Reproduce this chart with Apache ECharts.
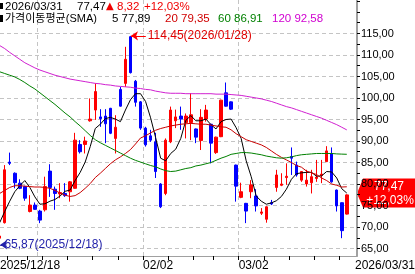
<!DOCTYPE html>
<html><head><meta charset="utf-8">
<script src="https://cdn.jsdelivr.net/npm/echarts@6/dist/echarts.min.js"></script>
<style>html,body{margin:0;padding:0;background:#fff}#c{width:415px;height:274px}</style>
</head><body><div id="c"></div>
<script>
// ---------------- DATA ----------------
const dates = [
 '2025/12/18','2025/12/19','2025/12/22','2025/12/23','2025/12/24','2025/12/26','2025/12/29','2025/12/30',
 '2026/01/02','2026/01/05','2026/01/06','2026/01/07','2026/01/08','2026/01/09','2026/01/12','2026/01/13',
 '2026/01/14','2026/01/15','2026/01/16','2026/01/19','2026/01/20','2026/01/21','2026/01/22','2026/01/23',
 '2026/01/26','2026/01/27','2026/01/28','2026/01/29','2026/01/30',
 '2026/02/02','2026/02/03','2026/02/04','2026/02/05','2026/02/06','2026/02/09','2026/02/10','2026/02/11',
 '2026/02/12','2026/02/13','2026/02/16','2026/02/18','2026/02/19','2026/02/20','2026/02/23','2026/02/24',
 '2026/02/25','2026/02/26','2026/02/27',
 '2026/03/02','2026/03/03','2026/03/04','2026/03/05','2026/03/06','2026/03/09','2026/03/10','2026/03/11',
 '2026/03/12','2026/03/13','2026/03/16','2026/03/17','2026/03/18','2026/03/19','2026/03/20','2026/03/23',
 '2026/03/24','2026/03/25','2026/03/26','2026/03/27','2026/03/30','2026/03/31'
];
const opens = [67.4,71.0,85.1,82.5,80.2,79.4,73.6,75.1,73.7,74.0,83.0,78.8,77.7,77.8,78.2,79.0,89.2,89.2,94.7,97.2,
 95.6,95.8,97.6,90.6,102.0,103.4,114.26,103.9,99.1,93.0,91.2,89.8,80.0,77.8,89.8,94.7,95.8,94.3,94.3,92.8,
 90.1,95.1,93.9,87.3,91.0,101.2,99.1,84.4,76.9,75.5,78.2,77.2,73.2,71.8,75.65,79.2,79.7,81.5,86.4,84.4,
 80.9,80.0,80.3,81.3,82.0,85.2,87.1,78.6,75.65,73.0];
const closes = [67.9,83.3,84.8,80.3,79.0,76.7,75.1,74.1,71.6,79.4,79.2,77.8,78.0,77.3,80.5,90.2,87.5,90.0,95.1,101.5,
 95.2,94.0,91.8,93.2,98.1,109.0,105.9,99.0,93.0,89.1,90.2,82.9,74.7,90.2,97.2,95.6,95.1,95.8,96.1,90.9,
 95.5,97.2,89.5,90.9,99.5,98.1,97.4,79.5,78.2,73.7,79.8,74.9,73.5,74.7,75.35,82.1,80.0,81.8,86.0,82.1,
 82.9,80.9,81.7,81.6,82.3,87.7,80.5,74.9,69.15,77.47];
const lows = [65.87,70.8,84.4,79.0,78.8,76.1,73.4,74.0,70.9,73.6,77.0,74.0,76.7,77.0,75.9,78.9,87.1,87.1,94.5,94.9,
 93.3,89.5,91.6,87.1,98.0,102.6,105.7,98.0,92.6,88.7,89.8,81.4,74.4,77.4,89.5,93.0,92.6,90.6,90.2,89.5,
 87.9,94.5,84.8,87.0,90.9,98.0,97.2,75.9,76.7,70.9,76.7,73.6,72.8,71.0,75.1,78.2,79.5,79.8,82.1,81.7,
 80.5,79.4,77.8,80.5,80.2,85.1,80.3,73.6,67.4,72.9];
const highs = [68.6,84.4,87.3,82.7,81.1,79.6,77.4,75.7,74.0,81.7,84.6,79.4,80.2,80.2,80.7,91.9,90.2,91.0,99.9,103.4,
 97.4,97.4,97.7,96.0,102.6,111.9,114.45,104.2,99.3,93.3,92.6,91.9,80.2,90.6,98.0,97.3,98.0,96.4,101.1,92.9,
 97.4,98.4,94.0,91.0,99.6,103.6,99.2,84.5,80.3,75.6,80.9,78.8,74.4,74.8,76.3,83.3,82.5,84.8,88.5,85.2,
 82.95,83.3,83.3,85.6,85.6,88.8,88.5,78.7,75.7,77.6];
const ma5 = [71.0,73.6,76.0,78.2,79.6,80.8,79.2,77.0,75.3,75.4,76.0,76.4,77.2,78.3,78.6,80.8,82.7,85.1,88.7,92.9,
 93.9,95.2,95.5,95.1,94.5,97.2,99.6,101.0,101.0,99.2,95.4,90.8,86.0,85.4,87.1,88.1,90.6,94.8,95.9,94.7,
 94.7,95.1,93.8,92.8,94.5,95.0,95.1,93.1,90.6,85.4,81.7,77.2,76.0,75.3,75.6,76.1,77.1,78.8,81.1,82.4,
 82.6,82.7,82.7,81.8,81.9,82.9,82.8,81.4,78.9,77.89];
const ma20 = [77.8,78.5,79.2,79.6,79.6,79.5,79.4,79.3,79.3,79.2,79.0,78.5,77.9,77.4,77.1,77.3,78.0,79.0,80.1,81.5,
 82.5,83.6,84.7,85.6,86.3,87.1,88.0,89.3,90.7,91.2,91.9,92.5,92.9,93.2,93.5,93.7,93.9,94.0,94.1,94.0,
 93.9,93.9,93.7,93.5,93.3,93.2,92.6,91.7,91.0,90.3,89.9,89.5,89.1,88.5,87.7,86.9,86.2,85.6,85.0,84.3,
 83.9,83.0,82.6,82.2,81.4,80.8,80.0,79.7,79.3,79.35];
const ma60 = [106.1,105.7,105.3,104.9,104.3,103.6,102.8,102.1,101.2,100.3,99.4,98.5,97.5,96.5,95.6,94.5,93.5,92.4,91.3,90.3,
 89.6,89.0,88.4,87.8,87.2,86.6,86.0,85.5,85.1,84.7,84.3,84.0,83.5,83.1,82.9,83.0,83.3,83.6,83.8,84.2,
 84.4,84.7,85.0,85.5,86.0,86.4,86.9,87.1,87.3,87.3,87.2,87.0,86.8,86.5,86.3,86.1,86.0,86.1,86.3,86.6,
 86.8,86.9,87.0,87.1,87.1,87.1,87.1,87.0,86.95,86.91];
const ma120 = [112.2,111.5,110.6,109.8,109.0,108.2,107.6,107.0,106.5,106.1,105.7,105.3,105.0,104.7,104.4,104.2,104.0,103.8,103.6,103.4,
 103.3,103.1,103.0,102.8,102.7,102.6,102.5,102.3,102.2,102.0,101.9,101.6,101.4,101.2,101.1,101.1,101.1,101.0,101.0,101.0,
 101.0,101.0,101.0,100.9,100.9,100.9,100.8,100.7,100.6,100.4,100.2,100.0,99.8,99.5,99.2,98.8,98.4,98.0,97.7,97.3,
 96.9,96.5,96.1,95.7,95.3,94.8,94.3,93.8,93.2,92.58];
const maPeriods = [5, 20, 60, 120];
const maLast = [77.89, 79.35, 86.91, 92.58];
const yLabelValues = [65,70,75,80,85,90,95,100,105,110,115];
const yMinorTicks = [62.5,65,67.5,70,72.5,75,77.5,80,82.5,85,87.5,90,92.5,95,97.5,100,102.5,105,107.5,110,112.5,115,117.5,120,122.5];
const xLabelDates = ['2025/12/18','2026/02/02','2026/03/02','2026/03/31'];

// ---------------- STYLE / LAYOUT ----------------
const X_MIN = 0.0656, X_MAX = 71.03;   // index range shown in the plot
const Y_MIN = 63.256, Y_MAX = 122.79;
const FONT = "'Liberation Sans', Arial, 'Noto Sans CJK KR', sans-serif";
const C_UP = '#ff0000', C_DN = '#0000ff';
const maColors = ['#000000', '#c80000', '#008000', '#d020d0'];
const textColors = ['#000000', '#d00000', '#008000', '#d000d0'];
const GRID_COLOR = '#c4c4c4';

const fmt = v => v.toFixed(2).replace('.', ',');
const N = dates.length;

const candleData = dates.map((d, i) => [i, opens[i], closes[i], lows[i], highs[i]]);
const toLine = arr => arr.map((v, i) => [i, v]);

// month boundaries (vertical grid lines) and weekly ticks
const monthB = [], weekB = [];
const dow = s => new Date(s.replace(/\//g, '-') + 'T00:00:00Z').getUTCDay();
const dnum = s => Date.parse(s.replace(/\//g, '-') + 'T00:00:00Z') / 86400000;
for (let i = 1; i < N; i++) {
  if (dates[i].slice(5, 7) !== dates[i - 1].slice(5, 7)) monthB.push(i - 0.5);
  if (dow(dates[i]) < dow(dates[i - 1]) || dnum(dates[i]) - dnum(dates[i - 1]) >= 7) weekB.push(i - 0.5);
}
const labelPos = xLabelDates.map((d, k) => {
  if (k === 0) return X_MIN;
  if (k === xLabelDates.length - 1) return X_MAX - 0.4;
  return dates.indexOf(d) - 0.5;
});
const labelText = xLabelDates.map((d, k) => (k === 0 || k === xLabelDates.length - 1) ? d : d.slice(5));

let hiIdx = 0, loIdx = 0;
highs.forEach((v, i) => { if (v > highs[hiIdx]) hiIdx = i; });
lows.forEach((v, i) => { if (v < lows[loIdx]) loIdx = i; });

const chart = echarts.init(document.getElementById('c'));
chart.setOption({
  animation: false,
  backgroundColor: '#ffffff',
  grid: { left: 0, right: 58, top: 0, bottom: 18, containLabel: false, outerBoundsMode: 'none' },
  xAxis: [{
    type: 'value', position: 'bottom', min: X_MIN, max: X_MAX,
    axisLine: { show: true, lineStyle: { color: '#a0a0a0', width: 1 } },
    axisTick: { show: false, customValues: monthB },
    splitLine: { show: true, lineStyle: { color: GRID_COLOR, type: [4, 3], width: 1 } },
    axisLabel: {
      show: true, customValues: labelPos, align: 'left', margin: 4,
      color: '#000', fontSize: 12, fontFamily: FONT,
      formatter: v => { for (let k = 0; k < labelPos.length; k++) if (Math.abs(labelPos[k] - v) < 1e-6) return labelText[k]; return ''; }
    }
  }, {
    type: 'value', position: 'bottom', min: X_MIN, max: X_MAX,
    axisLine: { show: false },
    axisTick: { show: true, customValues: weekB, length: 4, lineStyle: { color: '#000', width: 1 } },
    splitLine: { show: false }, axisLabel: { show: false }
  }],
  yAxis: [{
    type: 'value', position: 'right', min: Y_MIN, max: Y_MAX,
    axisLine: { show: true, lineStyle: { color: '#a0a0a0', width: 2 } },
    axisTick: { show: false, customValues: yLabelValues },
    splitLine: { show: true, lineStyle: { color: GRID_COLOR, type: [4, 3], width: 1 } },
    axisLabel: { show: true, customValues: yLabelValues, margin: 4, color: '#000', fontSize: 11, fontFamily: FONT, formatter: v => fmt(v) }
  }, {
    type: 'value', position: 'right', min: Y_MIN, max: Y_MAX,
    axisLine: { show: false },
    axisTick: { show: true, customValues: yMinorTicks, length: 3, lineStyle: { color: '#000', width: 1 } },
    splitLine: { show: false }, axisLabel: { show: false }
  }],
  series: [{
    type: 'candlestick', xAxisIndex: 0, yAxisIndex: 0, barWidth: 3,
    data: candleData,
    itemStyle: { color: C_UP, color0: C_DN, borderColor: C_UP, borderColor0: C_DN, borderWidth: 1 }
  },
  ...[ma5, ma20, ma60, ma120].map((arr, k) => ({
    type: 'line', xAxisIndex: 0, yAxisIndex: 0, data: toLine(arr), symbol: 'none', showSymbol: false,
    lineStyle: { color: maColors[k], width: 1 }, silent: true,
    markLine: k !== 0 ? undefined : {
      silent: true, symbolSize: 7, animation: false,
      data: [
        [{ coord: [hiIdx + 0.1, highs[hiIdx]], symbol: 'arrow',
           lineStyle: { color: '#ff0000', width: 1, type: 'solid' },
           label: { show: true, position: 'end', distance: 2, color: '#e00000', fontSize: 12, fontFamily: FONT,
                    formatter: fmt(highs[hiIdx]) + '(' + dates[hiIdx] + ')' } },
         { coord: [hiIdx + 3.05, highs[hiIdx]], symbol: 'none' }],
        [{ coord: [Math.max(loIdx + 0.1, X_MIN + 0.02), lows[loIdx]], symbol: 'arrow',
           lineStyle: { color: '#2222aa', width: 1, type: 'solid' },
           label: { show: true, position: 'end', distance: 2, color: '#2222aa', fontSize: 12, fontFamily: FONT,
                    padding: [5, 0, 0, 0],
                    formatter: fmt(lows[loIdx]) + '(' + dates[loIdx] + ')' } },
         { coord: [loIdx + 0.55, lows[loIdx]], symbol: 'none' }]
      ]
    }
  }))]
});

// ---------------- header + current price tag ----------------
const last = closes[N - 1], prev = closes[N - 2];
const chg = last - prev, pct = chg / prev * 100;
const yc = chart.convertToPixel({ yAxisIndex: 0 }, last);
const hFont = '11.5px ' + FONT;
const t = (x, y, text, fill, font) => ({ type: 'text', silent: true, style: { x, y, text, fill, font: font || hFont, verticalAlign: 'middle' } });
const ty = yc - 1.5;
chart.setOption({
  graphic: [
    { type: 'rect', silent: true, shape: { x: 0, y: 3, width: 3, height: 6 }, style: { fill: '#000' } },
    t(5, 6.5, dates[N - 1], '#000'),
    t(77, 6.5, fmt(last), '#000'),
    t(106, 6.5, (chg >= 0 ? '▲' : '▼'), '#f00000', '10px DejaVu Sans'),
    t(117, 6.5, fmt(Math.abs(chg)), '#f00000'),
    t(144, 6.5, (pct >= 0 ? '+' : '') + fmt(pct) + '%', '#f00000'),
    { type: 'rect', silent: true, shape: { x: 0, y: 15, width: 3, height: 7 }, style: { fill: '#000' } },
    t(5, 18.5, '가격이동평균(SMA)', '#000', "11px 'Liberation Sans', 'Noto Sans CJK KR', sans-serif"),
    t(112, 18.5, maPeriods[0] + ' ' + fmt(maLast[0]), textColors[0]),
    t(165, 18.5, maPeriods[1] + ' ' + fmt(maLast[1]), textColors[1]),
    t(218, 18.5, maPeriods[2] + ' ' + fmt(maLast[2]), textColors[2]),
    t(272, 18.5, maPeriods[3] + ' ' + fmt(maLast[3]), textColors[3]),
    { type: 'polygon', silent: true,
      shape: { points: [[357, ty], [363, ty - 15], [415, ty - 15], [415, ty + 14], [363, ty + 14]] },
      style: { fill: '#ff0000' } },
    { type: 'text', silent: true, style: { x: 389, y: ty - 7, text: fmt(last), fill: '#fff', font: '12px ' + FONT, align: 'center', verticalAlign: 'middle' } },
    { type: 'text', silent: true, style: { x: 390, y: ty + 7, text: (pct >= 0 ? '+' : '') + fmt(pct) + '%', fill: '#fff', font: '12px ' + FONT, align: 'center', verticalAlign: 'middle' } }
  ]
});
</script>
</body></html>
